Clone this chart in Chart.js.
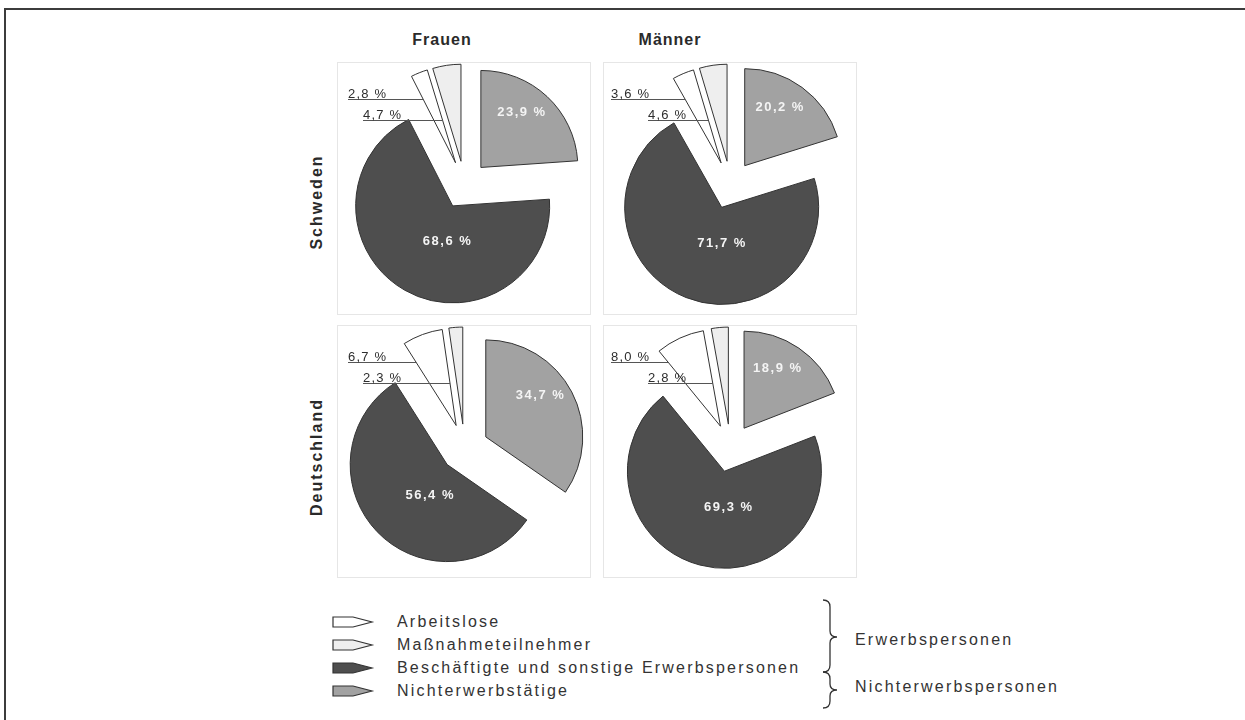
<!DOCTYPE html>
<html lang="de">
<head>
<meta charset="utf-8">
<title>Erwerbsstatus Schweden / Deutschland</title>
<script src="https://cdn.jsdelivr.net/npm/chart.js@4/dist/chart.umd.min.js"></script>
<style>
  body { margin: 0; background: #fff; font-family: "Liberation Sans", Arial, sans-serif; color: #333; }
  #page { position: relative; width: 1245px; height: 720px; overflow: hidden; }
  #frame { position: absolute; left: 4px; top: 8px; width: 1300px; height: 800px;
           border-top: 2px solid #3c3c3c; border-left: 2px solid #3c3c3c; }
  .panel { position: absolute; width: 254px; height: 253px; }
  .panel canvas { position: absolute; left: 0; top: 0; }
  .box { position: absolute; left: 0; top: 0; width: 252px; height: 251px; border: 1px solid #e6e6e6; }
  .head { position: absolute; font-weight: bold; font-size: 16px; letter-spacing: 1px;
          transform: translate(-50%, -50%); white-space: nowrap; color: #2a2a2a; }
  .row { position: absolute; font-weight: bold; font-size: 16px; letter-spacing: 2px;
         transform: translate(-50%, -50%) rotate(-90deg); white-space: nowrap; color: #2a2a2a; }
  .legend-text { position: absolute; font-size: 16px; letter-spacing: 2.2px; white-space: nowrap;
                 line-height: 18px; height: 18px; color: #333; }
  svg { position: absolute; left: 0; top: 0; }
</style>
</head>
<body>
<div id="page">
  <div id="frame"></div>
  <div class="head" style="left:442px; top:40px">Frauen</div>
  <div class="head" style="left:670px; top:40px">Männer</div>
  <div class="row" style="left:317px; top:202px">Schweden</div>
  <div class="row" style="left:317px; top:457px">Deutschland</div>
  <svg id="legendIcons" width="1245" height="720"></svg>
</div>

<script>
// Categories, in the order the slices run clockwise from 12 o'clock
const categories = ['Nichterwerbstätige', 'Beschäftigte und sonstige Erwerbspersonen', 'Arbeitslose', 'Maßnahmeteilnehmer'];

// Shares in percent, same order as categories
const schwedenFrauen = [23.9, 68.6, 2.8, 4.7];
const schwedenMaenner = [20.2, 71.7, 3.6, 4.6];
const deutschlandFrauen = [34.7, 56.4, 6.7, 2.3];
const deutschlandMaenner = [18.9, 69.3, 8.0, 2.8];

// Legend order and the two groups on the right
const legendOrder = [2, 3, 1, 0];
const groupLabels = ['Erwerbspersonen', 'Nichterwerbspersonen'];

const sliceColors = ['#a2a2a2', '#4e4e4e', '#ffffff', '#eeeeee'];

const SHIFT = 24;   // every slice is pulled this far out of the centre
const RADIUS = 97;

const fmt = v => v.toFixed(1).replace('.', ',') + ' %';

// Moves every arc outward along its own middle angle before drawing it
const explode = {
  id: 'explode',
  beforeDatasetDraw(chart, args) {
    const ctx = chart.ctx;
    args.meta.data.forEach(arc => {
      const mid = (arc.startAngle + arc.endAngle) / 2;
      ctx.save();
      ctx.translate(Math.cos(mid) * SHIFT, Math.sin(mid) * SHIFT);
      arc.draw(ctx, chart.chartArea);
      ctx.restore();
    });
    return false;
  }
};

// Percent labels: white inside the big slices, leader lines for the small ones
const sliceLabels = {
  id: 'sliceLabels',
  afterDatasetsDraw(chart, args, opts) {
    const ctx = chart.ctx;
    const arcs = chart.getDatasetMeta(0).data;
    const values = chart.data.datasets[0].data;
    const shifted = arc => {
      const mid = (arc.startAngle + arc.endAngle) / 2;
      return [arc.x + Math.cos(mid) * SHIFT, arc.y + Math.sin(mid) * SHIFT];
    };

    ctx.save();
    ctx.fillStyle = '#f4f4f4';
    ctx.font = 'bold 13px "Liberation Sans", Arial, sans-serif';
    ctx.letterSpacing = '1.5px';
    ctx.textAlign = 'center';
    ctx.textBaseline = 'middle';
    [0, 1].forEach(i => {
      const arc = arcs[i];
      const [cx, cy] = shifted(arc);
      const a = arc.startAngle + 0.42 * (arc.endAngle - arc.startAngle);
      const d = (i === 0 ? 0.7 : 0.37) * arc.outerRadius;
      ctx.fillText(fmt(values[i]), cx + Math.cos(a) * d + 1, cy + Math.sin(a) * d);
    });

    // leader lines end on the edges of the Arbeitslose slice
    const arb = arcs[2];
    const [ax, ay] = shifted(arb);
    ctx.font = '13px "Liberation Sans", Arial, sans-serif';
    ctx.letterSpacing = '1.2px';
    ctx.fillStyle = '#2e2e2e';
    ctx.strokeStyle = '#555';
    ctx.lineWidth = 1;
    ctx.textAlign = 'left';
    ctx.textBaseline = 'alphabetic';
    [0, 1].forEach(k => {
      const lineY = Math.round(arb.y + opts.lineDY[k]) + 0.5;
      const edge = k === 0 ? arb.startAngle : arb.endAngle;
      const t = (lineY - ay) / Math.sin(edge);
      const xEnd = ax + t * Math.cos(edge);
      const xStart = opts.labelX[k];
      ctx.beginPath();
      ctx.moveTo(xStart, lineY);
      ctx.lineTo(xEnd, lineY);
      ctx.stroke();
      ctx.fillText(fmt(values[2 + k]), xStart, lineY - 2);
    });
    ctx.restore();
  }
};

const panels = [
  { values: schwedenFrauen,     left: 337, top: 62,  labelX: [11, 26] },
  { values: schwedenMaenner,    left: 603, top: 62,  labelX: [8, 45] },
  { values: deutschlandFrauen,  left: 337, top: 325, labelX: [11, 26] },
  { values: deutschlandMaenner, left: 603, top: 325, labelX: [8, 45] }
];

const page = document.getElementById('page');

panels.forEach(p => {
  const wrap = document.createElement('div');
  wrap.className = 'panel';
  wrap.style.left = p.left + 'px';
  wrap.style.top = p.top + 'px';
  const box = document.createElement('div');
  box.className = 'box';
  const canvas = document.createElement('canvas');
  canvas.width = 254;
  canvas.height = 253;
  wrap.appendChild(box);
  wrap.appendChild(canvas);
  page.appendChild(wrap);

  new Chart(canvas.getContext('2d'), {
    type: 'pie',
    data: {
      labels: categories,
      datasets: [{
        data: p.values,
        backgroundColor: sliceColors,
        borderColor: '#333',
        borderWidth: 1
      }]
    },
    options: {
      responsive: false,
      animation: false,
      events: [],
      radius: RADIUS,
      layout: { padding: { left: 1, right: 0, top: 0, bottom: 7 } },
      plugins: {
        legend: { display: false },
        tooltip: { enabled: false },
        sliceLabels: { labelX: p.labelX, lineDY: [-86, -65] }
      }
    },
    plugins: [explode, sliceLabels]
  });
});

// Legend: wedge icons, names, and braces for the two groups
const svg = document.getElementById('legendIcons');
const NS = 'http://www.w3.org/2000/svg';
const rowY = [622, 645, 668, 691];

legendOrder.forEach((ci, r) => {
  const y = rowY[r];
  const icon = document.createElementNS(NS, 'polygon');
  icon.setAttribute('points', `333,${y - 5} 353,${y - 5} 372,${y} 353,${y + 5} 333,${y + 5}`);
  icon.setAttribute('fill', sliceColors[ci]);
  icon.setAttribute('stroke', '#333');
  icon.setAttribute('stroke-width', '1.2');
  svg.appendChild(icon);

  const txt = document.createElement('div');
  txt.className = 'legend-text';
  txt.style.left = '397px';
  txt.style.top = (y - 9) + 'px';
  txt.textContent = categories[ci];
  page.appendChild(txt);
});

function brace(y0, yTip, y1) {
  const path = document.createElementNS(NS, 'path');
  path.setAttribute('d',
    `M823,${y0} Q830,${y0} 830,${y0 + 7} L830,${yTip - 6} Q830,${yTip} 837,${yTip} ` +
    `Q830,${yTip} 830,${yTip + 6} L830,${y1 - 7} Q830,${y1} 823,${y1}`);
  path.setAttribute('fill', 'none');
  path.setAttribute('stroke', '#333');
  path.setAttribute('stroke-width', '1.3');
  svg.appendChild(path);
}
brace(600, 637, 672);
brace(672, 690, 708);

[[640, groupLabels[0]], [687, groupLabels[1]]].forEach(([y, label]) => {
  const txt = document.createElement('div');
  txt.className = 'legend-text';
  txt.style.left = '855px';
  txt.style.top = (y - 9) + 'px';
  txt.textContent = label;
  page.appendChild(txt);
});
</script>
</body>
</html>
